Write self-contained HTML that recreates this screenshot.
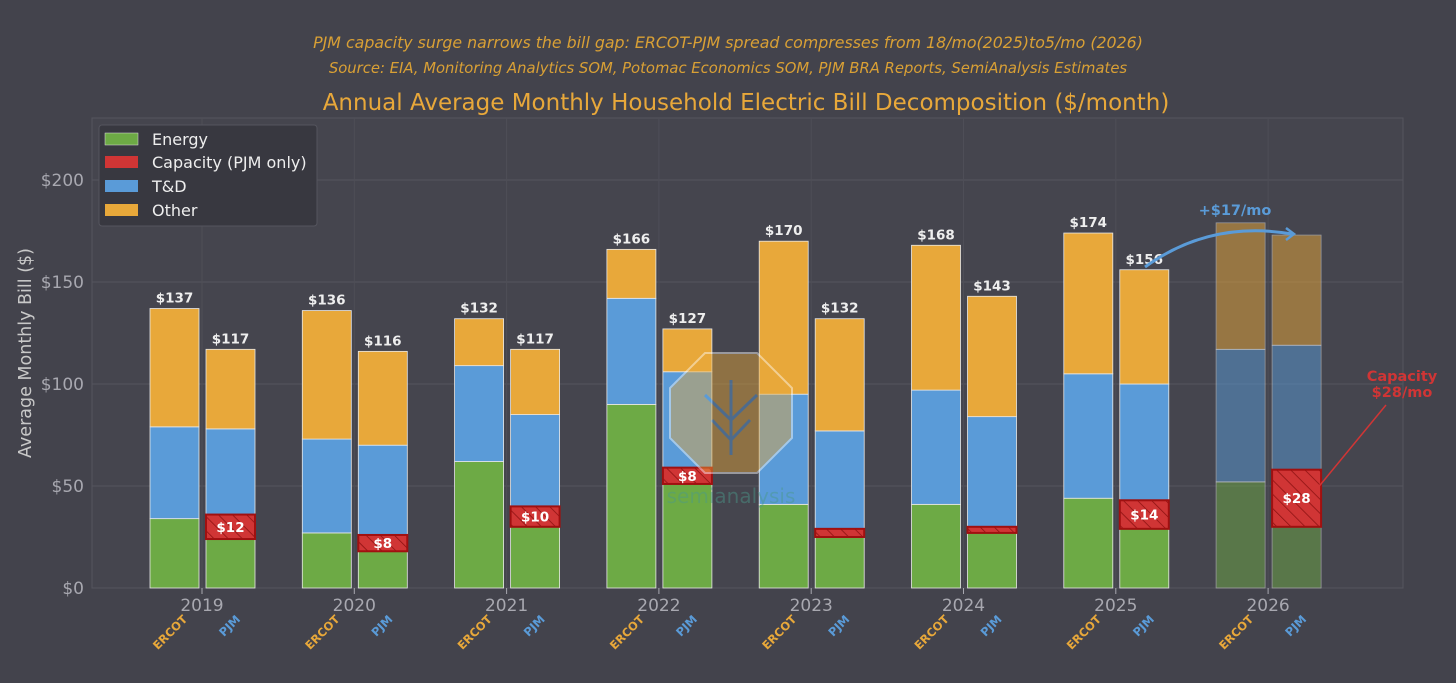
<!DOCTYPE html>
<html><head><meta charset="utf-8"><style>
body{margin:0;background:#43434c;}
svg{display:block;font-family:"DejaVu Sans","Liberation Sans",sans-serif;}
</style></head><body>
<svg id="chart" width="1456" height="683" viewBox="0 0 1456 683">
<defs>
<pattern id="hatch" width="10" height="10" patternUnits="userSpaceOnUse" patternTransform="rotate(-45)">
<rect width="10" height="10" fill="#d03535"/><line x1="0" y1="0" x2="0" y2="10" stroke="#8a1010" stroke-width="1.5"/>
</pattern>
</defs>
<rect x="0" y="0" width="1456" height="683" fill="#43434c"/>
<text x="728" y="48" text-anchor="middle" fill="#d9a035" font-size="15.8" font-style="italic">PJM capacity surge narrows the bill gap: ERCOT-PJM spread compresses from 18/mo(2025)to5/mo (2026)</text>
<text x="728" y="73" text-anchor="middle" fill="#d9a035" font-size="14.8" font-style="italic">Source: EIA, Monitoring Analytics SOM, Potomac Economics SOM, PJM BRA Reports, SemiAnalysis Estimates</text>
<text x="746" y="110" text-anchor="middle" fill="#e8a83a" font-size="23">Annual Average Monthly Household Electric Bill Decomposition ($/month)</text>
<rect x="92" y="118" width="1311" height="470" fill="#45454e" stroke="#55555e"/>
<g id="grid"></g>
<g id="bars"></g>
<g opacity="0.45">
<polygon points="705,353 757,353 792,388 792,438 757,473 705,473 670,438 670,388" fill="#e8a83a" stroke="#fff" stroke-width="2"/>
<path d="M731,455 L731,380 M731,420 L705,395 M731,420 L757,395 M731,440 L712,420 M731,440 L750,420" stroke="#5a9bd8" stroke-width="3" fill="none"/>
<text x="731" y="503" text-anchor="middle" fill="#4a9a8a" font-size="20">semianalysis</text>
</g>
<g id="axes"></g>
<text transform="translate(31,353) rotate(-90)" text-anchor="middle" fill="#c8c8c8" font-size="17.5">Average Monthly Bill ($)</text>
<g>
<rect x="99" y="125" width="218" height="101" rx="3" fill="#383840" stroke="#55555e"/>
<rect x="105" y="133" width="33" height="12" fill="#6daa45" stroke="#ddd" stroke-width="0.5"/><text x="152" y="145" fill="#eee" font-size="16">Energy</text>
<rect x="105" y="156" width="33" height="12" fill="#d03535"/><text x="152" y="168" fill="#eee" font-size="16">Capacity (PJM only)</text>
<rect x="105" y="180" width="33" height="12" fill="#5a9bd8"/><text x="152" y="192" fill="#eee" font-size="16">T&amp;D</text>
<rect x="105" y="204" width="33" height="12" fill="#e8a83a"/><text x="152" y="216" fill="#eee" font-size="16">Other</text>
</g>
<g>
<path d="M1145,267 Q1210,220 1292,234" fill="none" stroke="#5a9bd8" stroke-width="3"/>
<path d="M1286,228 L1294,234 L1286,240" fill="none" stroke="#5a9bd8" stroke-width="2.5"/>
<text x="1235" y="215" text-anchor="middle" fill="#5a9bd8" font-size="14.5" font-weight="bold">+$17/mo</text>
</g>
<g>
<line x1="1386" y1="405" x2="1316" y2="490" stroke="#d03535" stroke-width="1.5"/>
<text x="1402" y="381" text-anchor="middle" fill="#d03535" font-size="14.5" font-weight="bold">Capacity</text>
<text x="1402" y="397" text-anchor="middle" fill="#d03535" font-size="14.5" font-weight="bold">$28/mo</text>
</g>
</svg>
<script>
const years=["2019","2020","2021","2022","2023","2024","2025","2026"];
const ercotEnergy=[34,27,62,90,41,41,44,52];
const ercotTD=[45,46,47,52,54,56,61,65];
const ercotOther=[58,63,23,24,75,71,69,62];
const ercotTotal=[137,136,132,166,170,168,174,179];
const pjmEnergy=[24,18,30,51,25,27,29,30];
const pjmCapacity=[12,8,10,8,4,3,14,28];
const pjmTD=[42,44,45,47,48,54,57,61];
const pjmOther=[39,46,32,21,55,59,56,54];
const pjmTotal=[117,116,117,127,132,143,156,173];
const yTicks=[0,50,100,150,200];
const ns="http://www.w3.org/2000/svg";
const y=v=>588-v*2.04;
const gx=i=>202+i*152.3;
function mk(tag,attrs,parent,txt){const e=document.createElementNS(ns,tag);for(const k in attrs)e.setAttribute(k,attrs[k]);if(txt!==undefined)e.textContent=txt;parent.appendChild(e);return e;}
const grid=document.getElementById('grid'),bars=document.getElementById('bars'),axes=document.getElementById('axes');
yTicks.forEach(t=>{
 const l=mk('line',{x1:92,x2:1403,y1:y(t),y2:y(t),stroke:'#55555e','stroke-width':1},grid);
 
 
 const tx=mk('text',{x:84,y:y(t)+6,'text-anchor':'end',fill:'#a8a8b0','font-size':17},axes,'$'+t);
 
 
});
years.forEach((_,i)=>{const l=mk('line',{x1:gx(i),x2:gx(i),y1:118,y2:588,stroke:'#4e4e57'},grid);
 
 });
function seg(x,v0,v1,fill,op,name,parent){
 const r=mk('rect',{x:x,y:y(v1),width:49,height:y(v0)-y(v1),fill:fill,stroke:'#e8e8e8','stroke-width':0.8,opacity:op},parent);
 
 
 return r;}
years.forEach((yr,i)=>{
 const last=i===years.length-1, op=last?0.5:1;
 const g=mk('g',{},bars);
 
 
 const ex=gx(i)-52, px=gx(i)+4;
 let b=0;
 seg(ex,b,b+ercotEnergy[i],'#6daa45',op,'ercot-energy-'+yr,g);b+=ercotEnergy[i];
 seg(ex,b,b+ercotTD[i],'#5a9bd8',op,'ercot-td-'+yr,g);b+=ercotTD[i];
 seg(ex,b,b+ercotOther[i],'#e8a83a',op,'ercot-other-'+yr,g);
 let p=0;
 seg(px,p,p+pjmEnergy[i],'#6daa45',op,'pjm-energy-'+yr,g);p+=pjmEnergy[i];
 const capStart=p;p+=pjmCapacity[i];
 seg(px,p,p+pjmTD[i],'#5a9bd8',op,'pjm-td-'+yr,g);p+=pjmTD[i];
 seg(px,p,p+pjmOther[i],'#e8a83a',op,'pjm-other-'+yr,g);
 const c=mk('rect',{x:px,y:y(capStart+pjmCapacity[i]),width:49,height:y(capStart)-y(capStart+pjmCapacity[i]),fill:'url(#hatch)',stroke:'#a01010','stroke-width':2},g);
 
 
 if(pjmCapacity[i]>=6){const t=mk('text',{x:px+24.5,y:(y(capStart)+y(capStart+pjmCapacity[i]))/2+5,'text-anchor':'middle',fill:'#fff','font-size':13.5,'font-weight':'bold'},g,'$'+pjmCapacity[i]);
  
  }
 if(!last){
  const t1=mk('text',{x:ex+24.5,y:y(ercotTotal[i])-6,'text-anchor':'middle',fill:'#eee','font-size':13.5,'font-weight':'bold'},g,'$'+ercotTotal[i]);
  
  
  const t2=mk('text',{x:px+24.5,y:y(pjmTotal[i])-6,'text-anchor':'middle',fill:'#eee','font-size':13.5,'font-weight':'bold'},g,'$'+pjmTotal[i]);
  
  
 }
 const tk=mk('line',{x1:gx(i),x2:gx(i),y1:588,y2:594,stroke:'#a8a8b0'},axes);
 
 
 const yl=mk('text',{x:gx(i),y:611,'text-anchor':'middle',fill:'#a8a8b0','font-size':17},axes,yr);
 
 
 const el=mk('text',{transform:`translate(${ex+38},620) rotate(-45)`,'text-anchor':'end',fill:'#e8a83a','font-size':11.5,'font-weight':'bold'},axes,'ERCOT');
 
 
 const pl=mk('text',{transform:`translate(${px+35},620) rotate(-45)`,'text-anchor':'end',fill:'#5a9bd8','font-size':11.5,'font-weight':'bold'},axes,'PJM');
 
 
});
</script>
</body></html>
